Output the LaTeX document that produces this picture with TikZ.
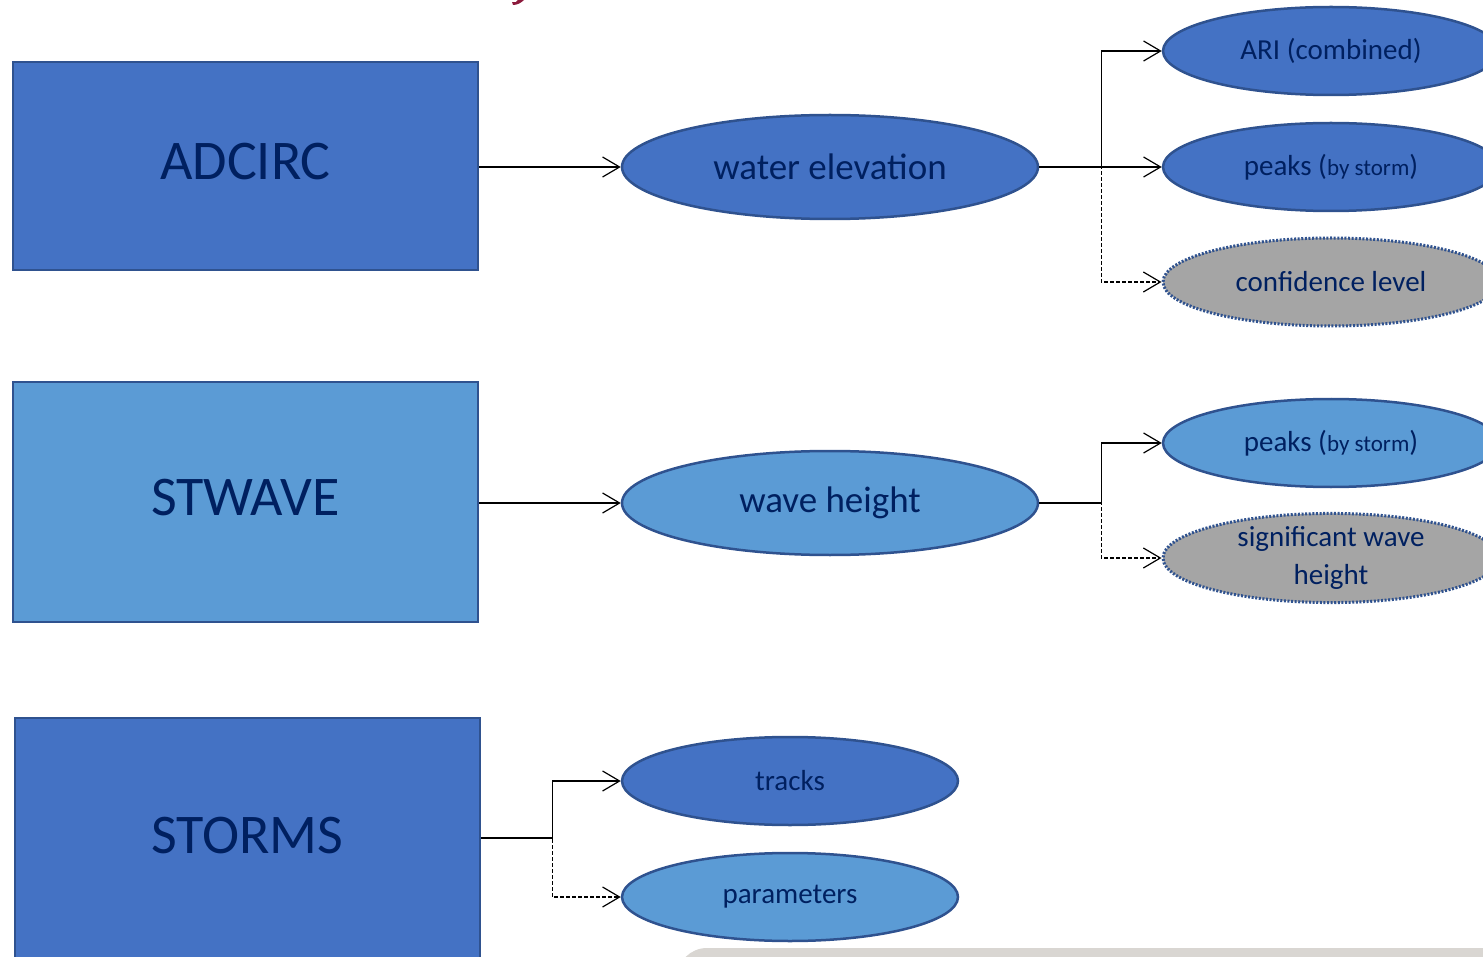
\documentclass[tikz,border=0pt]{standalone}
\usepackage{fontspec}
\setmainfont{Carlito}
\usetikzlibrary{shapes.geometric, arrows.meta}

\definecolor{accblue}{HTML}{4472C4}
\definecolor{acclight}{HTML}{5B9BD5}
\definecolor{accedge}{HTML}{2F528F}
\definecolor{accgray}{HTML}{A5A5A5}
\definecolor{labelnavy}{HTML}{002060}
\definecolor{titlered}{HTML}{8C1A3C}
\definecolor{panelgray}{HTML}{D9D6D2}

\begin{document}
\begin{tikzpicture}[x=1pt, y=-1pt,
    model/.style={draw=accedge, line width=2.5pt, text=labelnavy, inner sep=0pt,
        minimum width=465pt, text depth=10pt, font=\fontsize{56}{60}\selectfont},
    output/.style={ellipse, draw=accedge, line width=2.5pt, text=labelnavy, inner sep=0pt,
        minimum width=416pt, minimum height=104pt, font=\fontsize{37}{44}\selectfont},
    product/.style={ellipse, draw=accedge, line width=2.5pt, text=labelnavy, inner sep=0pt,
        minimum width=336pt, minimum height=88pt, align=center,
        font=\fontsize{29}{38}\selectfont},
    optional/.style={product, fill=accgray, line width=3pt, dash pattern=on 2pt off 1.6pt},
    link/.style={line width=1.2pt, -{Straight Barb[length=17pt, width=20pt]}},
    maybe/.style={link, dash pattern=on 4pt off 2pt}]

    \useasboundingbox (0,0) rectangle (1483,957);
    \clip (0,0) rectangle (1483,957);

    % Title remnant and panel
    \fill[titlered] (513,5) .. controls (517,5) and (521,3) .. (524,0)
        -- (518,0) .. controls (517,2) and (515,3) .. (512,2) -- cycle;
    \fill[panelgray, rounded corners=30pt] (677,948) rectangle (1520,1010);

    % Models
    \node[model, fill=accblue, minimum height=208pt] (adcirc) at (245.5,166) {ADCIRC};
    \node[model, fill=acclight, minimum height=240pt] (stwave) at (245.5,502) {STWAVE};
    \node[model, fill=accblue, minimum height=244pt] (storms) at (247.5,840) {STORMS};

    % Outputs
    \node[output, fill=accblue] (water) at (830,167) {water elevation};
    \node[output, fill=acclight] (wave) at (830,503) {wave height};

    % Products
    \node[product, fill=accblue] (ari) at (1331,51) {ARI (combined)};
    \node[product, fill=accblue] (peaksw) at (1331,167)
        {peaks ({\fontsize{23}{28}\selectfont by storm})};
    \node[optional] (conf) at (1331,282) {confidence level};
    \node[product, fill=acclight] (peaksh) at (1331,443)
        {peaks ({\fontsize{23}{28}\selectfont by storm})};
    \node[optional] (sigwave) at (1331,558) {significant wave\\height};
    \node[product, fill=accblue] (tracks) at (790,781) {tracks};
    \node[product, fill=acclight] (params) at (790,897) {parameters};

    % Connectors
    \draw[link] (adcirc.east |- water.west) -- (water.west);
    \draw[link] (stwave.east |- wave.west) -- (wave.west);

    \draw[link] (water.east) -- ++(62,0) |- (ari.west);
    \draw[link] (water.east) -- ++(62,0) |- (peaksw.west);
    \draw[maybe] (water.east) -- ++(62,0) |- (conf.west);

    \draw[link] (wave.east) -- ++(62,0) |- (peaksh.west);
    \draw[maybe] (wave.east) -- ++(62,0) |- (sigwave.west);

    \draw[link] ([yshift=2pt]storms.east) -- ++(71,0) |- (tracks.west);
    \draw[maybe] ([yshift=2pt]storms.east) -- ++(71,0) |- (params.west);
\end{tikzpicture}
\end{document}
